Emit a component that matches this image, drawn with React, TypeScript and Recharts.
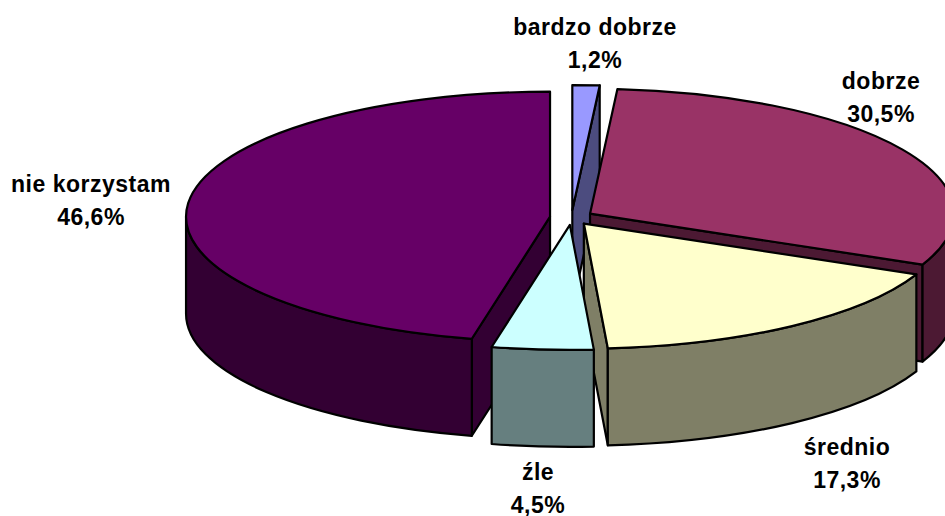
import { Pie, PieChart, Cell } from 'recharts'

const categories = ['nie korzystam', 'bardzo dobrze', 'dobrze', 'średnio', 'źle']
const shares = [46.6, 1.2, 30.5, 17.3, 4.5]
const topColors = ['#660066', '#9999ff', '#993366', '#ffffcc', '#ccffff']
const sideColors = ['#330033', '#4c4c7f', '#4c1933', '#7f7f66', '#667f7f']

// label centres, same order as categories
const labelX = [91, 595, 881, 847, 538]
const labelY = [200, 43, 97, 463, 488]

const CENTER_X = 571.5
const CENTER_Y = 217.5
const RADIUS = 364
const TILT = 125 / 364
const DEPTH = 97
const EXPLODE = 0.0593

const total = shares.reduce((a, b) => a + b, 0)
// the big slice ends at 12 o'clock and is painted first, so the front slices overlap it
const startAngle = 90 + (shares[0] / total) * 360

const data = categories.map((name, i) => ({ name, value: shares[i], side: sideColors[i] }))

function Slice3D(props: any) {
  const { cx, cy, outerRadius: r, startAngle: a0, endAngle: a1, midAngle, fill, payload } = props
  const side = payload?.side ?? props.side
  const ry = r * TILT
  const rad = (deg: number) => (deg * Math.PI) / 180
  const ox = cx + EXPLODE * r * Math.cos(rad(midAngle))
  const oy = cy - EXPLODE * ry * Math.sin(rad(midAngle))

  // clockwise angles from 12 o'clock
  const from = (((90 - a0) % 360) + 360) % 360
  const to = from + Math.abs(a0 - a1)
  const pt = (t: number, dy = 0) => [ox + r * Math.sin(rad(t)), oy - ry * Math.cos(rad(t)) + dy]
  const arc = (t0: number, t1: number, dy = 0) => {
    const [x, y] = pt(t1, dy)
    return `A${r} ${ry} 0 ${Math.abs(t1 - t0) > 180 ? 1 : 0} ${t1 > t0 ? 1 : 0} ${x} ${y}`
  }
  const edge = (t: number) => {
    const [x, y] = pt(t)
    const [bx, by] = pt(t, DEPTH)
    return `M${ox} ${oy}L${x} ${y}L${bx} ${by}L${ox} ${oy + DEPTH}Z`
  }

  const walls: string[] = []
  if (Math.sin(rad(from)) < -1e-6) walls.push(edge(from))
  if (Math.sin(rad(to)) > 1e-6) walls.push(edge(to))
  const f0 = Math.max(from, 90)
  const f1 = Math.min(to, 270)
  if (f1 > f0) {
    const [x0, y0] = pt(f0)
    const [x2, y2] = pt(f1)
    walls.push(`M${x0} ${y0}L${pt(f0, DEPTH).join(' ')}${arc(f0, f1, DEPTH)}L${x2} ${y2}${arc(f1, f0)}Z`)
  }
  const [sx, sy] = pt(from)
  const top = `M${ox} ${oy}L${sx} ${sy}${arc(from, to)}Z`

  return (
    <g stroke="#000" strokeWidth={2.2} strokeLinejoin="round">
      {walls.map((d) => (
        <path key={d} d={d} fill={side} />
      ))}
      <path d={top} fill={fill} />
    </g>
  )
}

function SliceLabel(props: any) {
  const { index } = props
  const pct = shares[index].toFixed(1).replace('.', ',') + '%'
  return (
    <text
      x={labelX[index]}
      y={labelY[index]}
      textAnchor="middle"
      fontFamily="'Liberation Sans', Arial, sans-serif"
      fontWeight="bold"
      fontSize={23}
      letterSpacing={0.5}
      fill="#000"
    >
      <tspan x={labelX[index]} dy={-8}>
        {categories[index]}
      </tspan>
      <tspan x={labelX[index]} dy={33}>
        {pct}
      </tspan>
    </text>
  )
}

export default function App() {
  return (
    <div style={{ position: 'fixed', left: 0, top: 0, width: 945, height: 516, overflow: 'hidden', background: '#fff' }}>
      <PieChart width={945} height={516} margin={{ top: 0, right: 0, bottom: 0, left: 0 }}>
        <Pie
          data={data}
          dataKey="value"
          nameKey="name"
          cx={CENTER_X}
          cy={CENTER_Y}
          innerRadius={0}
          outerRadius={RADIUS}
          startAngle={startAngle}
          endAngle={startAngle - 360}
          stroke="#000"
          shape={Slice3D}
          label={SliceLabel}
          labelLine={false}
          isAnimationActive={false}
        >
          {data.map((d, i) => (
            <Cell key={d.name} fill={topColors[i]} />
          ))}
        </Pie>
      </PieChart>
    </div>
  )
}
